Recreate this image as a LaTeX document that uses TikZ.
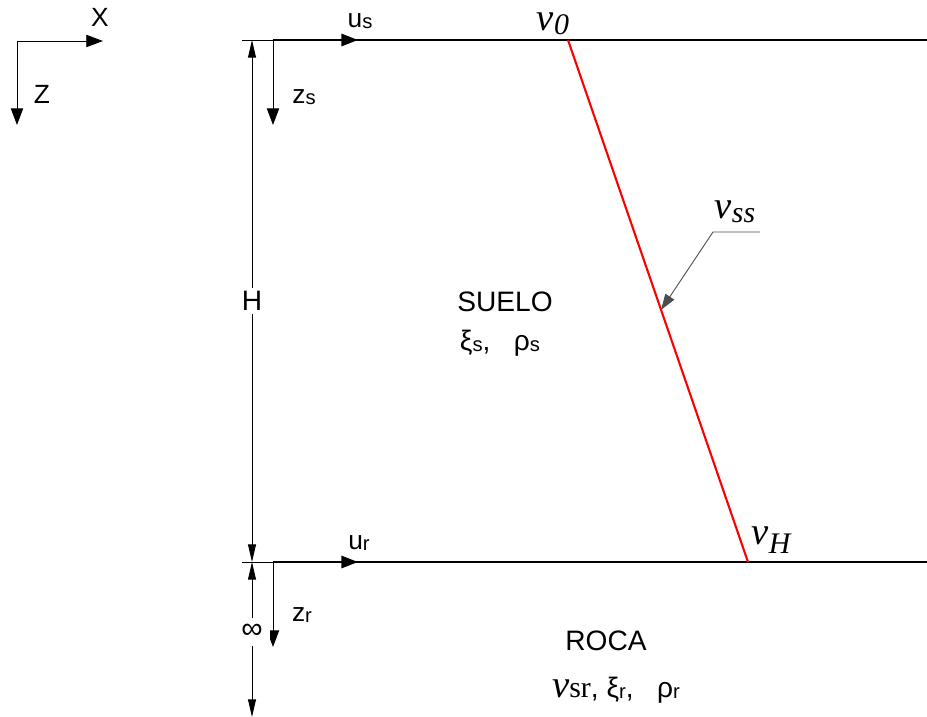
\documentclass[tikz,border=0pt]{standalone}
\usepackage{fontspec}
\setmainfont{Liberation Sans}
\newfontfamily\tnr{Liberation Serif}
\usetikzlibrary{arrows.meta, calc}

\newcommand{\lsub}[1]{\raisebox{-0.06em}{\fontsize{11.5}{11.5}\selectfont #1}}
\newcommand{\vsub}[2]{\raisebox{#1}{\fontsize{17}{17}\selectfont #2}}

\begin{document}
\begin{tikzpicture}[
    x=0.02cm, y=-0.02cm,
    surf/.style={line width=1.3pt, black},
    dim/.style={line width=0.5pt, black},
    big/.style={-{Triangle[length=9.5pt, width=7pt]}},
    dimarr/.style={{Triangle[length=10pt, width=4.5pt]}-{Triangle[length=10pt, width=4.5pt]}},
    lbl/.style={inner sep=0pt, font=\fontsize{15}{15}\selectfont},
    txt/.style={inner sep=0pt, font=\fontsize{16}{16}\selectfont},
    vlbl/.style={inner sep=0pt, font=\tnr\itshape\fontsize{22}{22}\selectfont}
]
\useasboundingbox (0,0) rectangle (927,717);

% axes
\coordinate (ax) at (17,41);
\draw[dim, big] (ax) -- ++(86,0);
\draw[dim, big] (ax) -- ++(0,84);
\node[lbl] (xl) at (100,17) {X};
\node[lbl] (zl) at (42,94) {Z};

% surfaces
\coordinate (s0) at (273,40);
\coordinate (s1) at (927,40);
\coordinate (r0) at (273,562);
\coordinate (r1) at (927,562);
\draw[surf] (s0) -- (s1);
\draw[surf] (r0) -- (r1);
\draw[surf, big] (s0) -- ++(85,0);
\draw[surf, big] (r0) -- ++(85,0);
\draw[dim, big] (s0) -- ++(0,85);
\draw[dim, big] (r0) -- ++(0,85);
\node[lbl] (us) at (360,21) {u\lsub{s}};
\node[lbl] (zs) at (304,97) {z\lsub{s}};
\node[lbl] (ur) at (359,543) {u\lsub{r}};
\node[lbl] (zr) at (302,615) {z\lsub{r}};

% dimensions
\coordinate (et) at (242,40);
\coordinate (eb) at (242,562);
\coordinate (dt) at (252,40);
\coordinate (db) at (252,562);
\coordinate (de) at (252,717);
\draw[dim] (et) -- (s0);
\draw[dim] (eb) -- (r0);
\draw[dim, dimarr] (dt) -- node[txt, fill=white, inner sep=2pt] (hl) {H} (db);
\draw[dim, dimarr] (db) -- node[txt, fill=white, inner sep=4pt, pos=0.45, font=\fontsize{17}{17}\selectfont] (inf) {∞} (de);

% velocity profile
\coordinate (v0) at (568,40);
\coordinate (vH) at (748,562);
\coordinate (lp) at ($(v0)!0.517!(vH)$);
\coordinate (la) at (760,232);
\coordinate (lb) at (713,232);
\draw[line width=1.2pt, red] (v0) -- (vH);
\draw[dim, black!70, -{Triangle[length=9pt, width=6pt]}] (la) -- (lb) -- (lp);
\node[vlbl] (v0l) at (553,24) {v\vsub{-0.1em}{0}};
\node[vlbl] (vHl) at (771,540) {v\vsub{-0.25em}{H}};
\node[vlbl] (vsl) at (735,212) {v\vsub{-0.1em}{ss}};

% layers
\node[txt] (suelo) at (505,302) {SUELO};
\node[txt] (sprop) at (500,343) {ξ\lsub{s},~~~ρ\lsub{s}};
\node[txt] (roca) at (606,641) {ROCA};
\node[txt] (rprop) at (616,690) {{\tnr\itshape\fontsize{22}{22}\selectfont v}{\tnr\fontsize{17}{17}\selectfont sr}, ξ\lsub{r},~~~ρ\lsub{r}};
\end{tikzpicture}
\end{document}
